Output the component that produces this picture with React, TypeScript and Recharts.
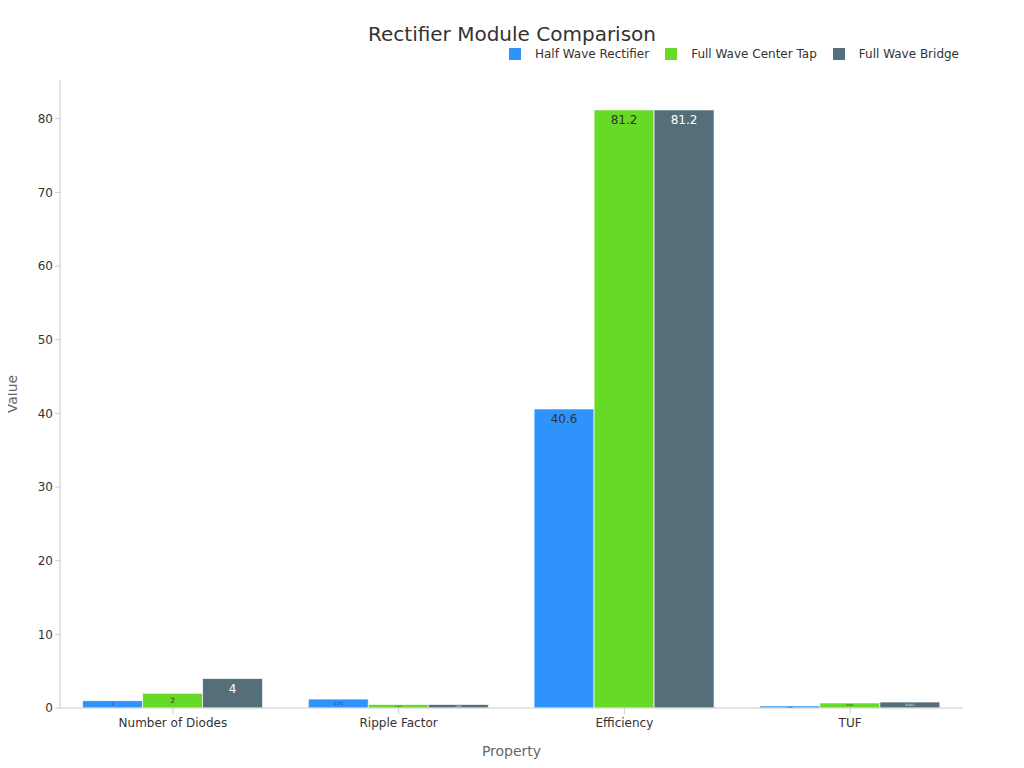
import React from "react";
import { BarChart, Bar, XAxis, YAxis, LabelList } from "recharts";

const CATEGORIES = ["Number of Diodes", "Ripple Factor", "Efficiency", "TUF"];
const HALF_WAVE = [1, 1.21, 40.6, 0.287];
const CENTER_TAP = [2, 0.482, 81.2, 0.693];
const BRIDGE = [4, 0.482, 81.2, 0.812];
const Y_TICKS = [0, 10, 20, 30, 40, 50, 60, 70, 80];
const SERIES = [
  { key: "half", name: "Half Wave Rectifier", color: "#2E93FA", text: "#333" },
  { key: "center", name: "Full Wave Center Tap", color: "#66DA26", text: "#333" },
  { key: "bridge", name: "Full Wave Bridge", color: "#546E7A", text: "#fff" },
];

const AXIS = "#cccccc", TICK = "#333333", FONT = "'DejaVu Sans', sans-serif";

const data = CATEGORIES.map((name, i) => ({ name, half: HALF_WAVE[i], center: CENTER_TAP[i], bridge: BRIDGE[i] }));

function inside(color: string) {
  return (p: any) => {
    const { x, y, width, height, value } = p;
    if (height <= 0) return null;
    const fs = height >= 20 ? 12 : Math.max(2, height * 0.5);
    return (
      <text x={x + width / 2} y={y + Math.min(10, height / 2)} fill={color} fontSize={fs} fontFamily={FONT}
        textAnchor="middle" dominantBaseline="central">{value}</text>
    );
  };
}

function YLabel({ viewBox }: any) {
  const cy = viewBox.y + viewBox.height / 2;
  return (
    <text x={12} y={cy} transform={`rotate(-90, 12, ${cy})`} fill="#666" fontSize={14} fontFamily={FONT}
      textAnchor="middle" dominantBaseline="central">Value</text>
  );
}

export default function App() {
  return (
    <div style={{ position: "relative", width: 1024, height: 768, margin: -8, fontFamily: FONT }}>
      <div style={{ position: "absolute", top: 22, left: 0, width: 1024, textAlign: "center", fontSize: 20, color: "#333" }}>
        Rectifier Module Comparison
      </div>
      <div style={{ position: "absolute", top: 47, right: 65, display: "flex", alignItems: "center", fontSize: 12, color: "#333" }}>
        {SERIES.map((s) => (
          <span key={s.key} style={{ display: "flex", alignItems: "center", marginLeft: 16 }}>
            <span style={{ width: 12, height: 12, background: s.color, display: "inline-block", marginRight: 14 }} />
            {s.name}
          </span>
        ))}
      </div>
      <BarChart width={1024} height={768} data={data} margin={{ top: 80, right: 61, left: 0, bottom: 0 }}
        barGap={0} barCategoryGap="10%">
        <XAxis dataKey="name" height={60} stroke={AXIS} tickSize={6} tickMargin={4}
          tick={{ fill: TICK, fontSize: 12, fontFamily: FONT }}
          label={{ value: "Property", position: "insideBottom", offset: 12, fill: "#666", fontSize: 14, fontFamily: FONT }} />
        <YAxis width={60} domain={[0, 81.2 * 1.05]} ticks={Y_TICKS} stroke={AXIS} tickSize={5}
          tick={{ fill: TICK, fontSize: 12, fontFamily: FONT }} label={<YLabel />} />
        {SERIES.map((s) => (
          <Bar key={s.key} dataKey={s.key} name={s.name} fill={s.color} stroke="#ffffff" strokeOpacity={0.7}
            isAnimationActive={false}>
            <LabelList dataKey={s.key} content={inside(s.text)} />
          </Bar>
        ))}
      </BarChart>
    </div>
  );
}
